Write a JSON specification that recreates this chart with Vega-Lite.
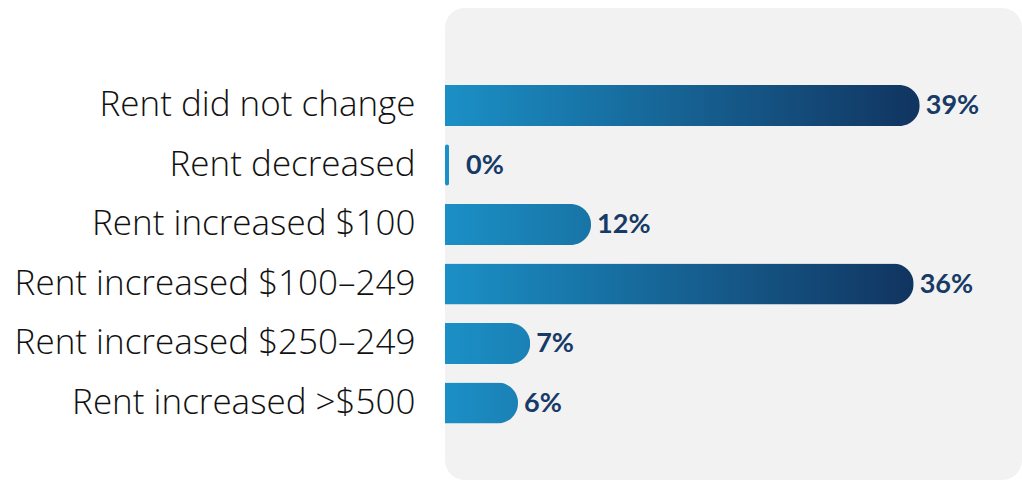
{
  "$schema": "https://vega.github.io/schema/vega-lite/v6.json",
  "width": 577,
  "height": 472,
  "autosize": {"type": "none"},
  "padding": {"left": 445, "top": 8, "right": 0, "bottom": 1},
  "background": "#ffffff",
  "config": {
    "view": {"fill": "#f2f2f2", "stroke": null, "cornerRadius": 20},
    "axis": {"grid": false}
  },
  "data": {
    "values": [
      {"response": "Rent did not change", "share": 39, "label": "39%"},
      {"response": "Rent decreased", "share": 0, "label": "0%"},
      {"response": "Rent increased $100", "share": 12, "label": "12%"},
      {"response": "Rent increased $100–249", "share": 38.5, "label": "36%"},
      {"response": "Rent increased $250–249", "share": 7, "label": "7%"},
      {"response": "Rent increased >$500", "share": 6, "label": "6%"}
    ]
  },
  "encoding": {
    "y": {
      "field": "response",
      "type": "nominal",
      "sort": ["Rent did not change", "Rent decreased", "Rent increased $100", "Rent increased $100–249", "Rent increased $250–249", "Rent increased >$500"],
      "scale": {"paddingInner": 0.067, "paddingOuter": 1, "align": 0.586},
      "axis": {
        "title": null,
        "domain": false,
        "ticks": false,
        "labelFont": "Open Sans",
        "labelFontWeight": 300,
        "labelFontSize": 35,
        "labelColor": "#111111",
        "labelPadding": 30,
        "labelLimit": 440
      }
    },
    "x": {
      "field": "share",
      "type": "quantitative",
      "scale": {"domain": [0, 47.4], "nice": false},
      "axis": null
    }
  },
  "layer": [
    {
      "transform": [{"filter": "datum.share >= 30"}],
      "mark": {
        "type": "bar",
        "height": {"band": 0.74},
        "cornerRadiusEnd": 20.5,
        "fill": {"gradient": "linear", "x1": 0, "y1": 0, "x2": 1, "y2": 0,
          "stops": [{"offset": 0, "color": "#1b90c6"}, {"offset": 1, "color": "#113460"}]}
      }
    },
    {
      "transform": [{"filter": "datum.share >= 10 && datum.share < 30"}],
      "mark": {
        "type": "bar",
        "height": {"band": 0.74},
        "cornerRadiusEnd": 20.5,
        "fill": {"gradient": "linear", "x1": 0, "y1": 0, "x2": 1, "y2": 0,
          "stops": [{"offset": 0, "color": "#1b90c6"}, {"offset": 1, "color": "#1874a6"}]}
      }
    },
    {
      "transform": [{"filter": "datum.share > 0 && datum.share < 10"}],
      "mark": {
        "type": "bar",
        "height": {"band": 0.74},
        "cornerRadiusEnd": 20.5,
        "fill": {"gradient": "linear", "x1": 0, "y1": 0, "x2": 1, "y2": 0,
          "stops": [{"offset": 0, "color": "#1b90c6"}, {"offset": 1, "color": "#1a81b5"}]}
      }
    },
    {
      "transform": [{"filter": "datum.share == 0"}],
      "mark": {"type": "bar", "height": {"band": 0.74}, "x2Offset": 4, "cornerRadiusEnd": 3, "fill": "#1b90c6"},
      "encoding": {"x2": {"datum": 0}}
    },
    {
      "transform": [{"filter": "datum.share > 0"}],
      "mark": {"type": "text", "align": "left", "baseline": "middle", "dx": 6, "dy": 1,
        "font": "Lato", "fontWeight": "bold", "fontSize": 27, "fill": "#183a66"},
      "encoding": {"text": {"field": "label"}}
    },
    {
      "transform": [{"filter": "datum.share == 0"}],
      "mark": {"type": "text", "align": "left", "baseline": "middle", "dx": 21, "dy": 1,
        "font": "Lato", "fontWeight": "bold", "fontSize": 27, "fill": "#183a66"},
      "encoding": {"text": {"field": "label"}}
    }
  ]
}
